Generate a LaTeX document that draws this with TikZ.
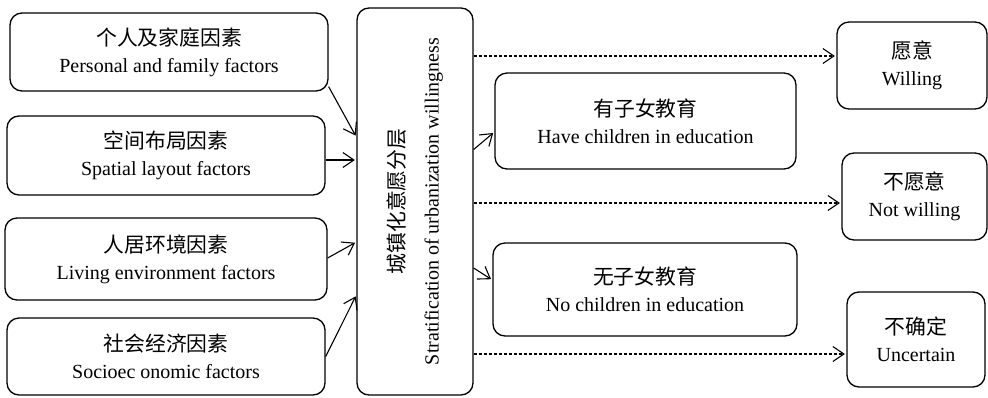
\documentclass[tikz,border=0pt]{standalone}
\usepackage{fontspec}
\setmainfont{Liberation Serif}
\newfontfamily\cjk{Noto Sans CJK SC}[Scale=1.04]
\usetikzlibrary{arrows.meta}
\begin{document}
\begin{tikzpicture}[x=1pt,y=-1pt,
 box/.style={draw, line width=1.3pt, rounded corners=12pt, align=center, inner sep=0pt, font=\fontsize{20}{27}\selectfont},
 arr/.style={line width=1.1pt, -{Straight Barb[length=11pt,width=15pt]}, shorten >=1.5pt},
 darr/.style={arr, dash pattern=on 3pt off 2pt}]
\useasboundingbox (0,0) rectangle (988,397);
% left factor boxes
\node[box, minimum width=318pt, minimum height=78pt] (L1) at (169,52) {{\cjk 个人及家庭因素}\\Personal and family factors};
\node[box, minimum width=318pt, minimum height=79pt] (L2) at (166,155.5) {{\cjk 空间布局因素}\\Spatial layout factors};
\node[box, minimum width=322pt, minimum height=82pt] (L3) at (166,259) {{\cjk 人居环境因素}\\Living environment factors};
\node[box, minimum width=318pt, minimum height=77pt] (L4) at (166,356.5) {{\cjk 社会经济因素}\\Socioec onomic factors};
% centre box
\node[box, minimum width=116pt, minimum height=387pt] (C) at (415,201.5) {};
\node[rotate=90, align=center, inner sep=0pt, font=\fontsize{20}{34}\selectfont] (Ct) at (C.center) {{\cjk 城镇化意愿分层}\\Stratification of urbanization willingness};
% middle boxes
\node[box, minimum width=301pt, minimum height=96pt] (H) at (645.5,121) {{\cjk 有子女教育}\\Have children in education};
\node[box, minimum width=304pt, minimum height=93pt] (N) at (645,289.5) {{\cjk 无子女教育}\\No children in education};
% right boxes
\node[box, minimum width=150pt, minimum height=87pt] (W) at (912,65.5) {{\cjk 愿意}\\Willing};
\node[box, minimum width=145pt, minimum height=87pt] (NW) at (914.5,196.5) {{\cjk 不愿意}\\Not willing};
\node[box, minimum width=138pt, minimum height=95pt] (U) at (916,339.5) {{\cjk 不确定}\\Uncertain};
% arrows into centre
\draw[arr] ([yshift=5pt]L1.south east) -- ([yshift=64.5pt]C.west);
\draw[arr] ([yshift=-4.5pt]L2.east) -- ([yshift=41.5pt]C.west);
\draw[arr] ([yshift=1pt]L3.east) -- ([yshift=-40.5pt]C.west);
\draw[arr] (L4.east) -- ([yshift=-93.5pt]C.west);
% arrows out of centre
\draw[arr] ([yshift=52pt]C.east) -- ([yshift=-11pt]H.west);
\draw[arr] ([yshift=-66.5pt]C.east) -- ([yshift=9.5pt]N.west);
% dashed arrows
\draw[darr] ([yshift=145.5pt]C.east) -- ([yshift=9.5pt]W.west);
\draw[darr] ([yshift=-1.5pt]C.east) -- ([yshift=-6.5pt]NW.west);
\draw[darr] ([yshift=-152.5pt]C.east) -- ([yshift=-14.5pt]U.west);
\end{tikzpicture}
\end{document}
